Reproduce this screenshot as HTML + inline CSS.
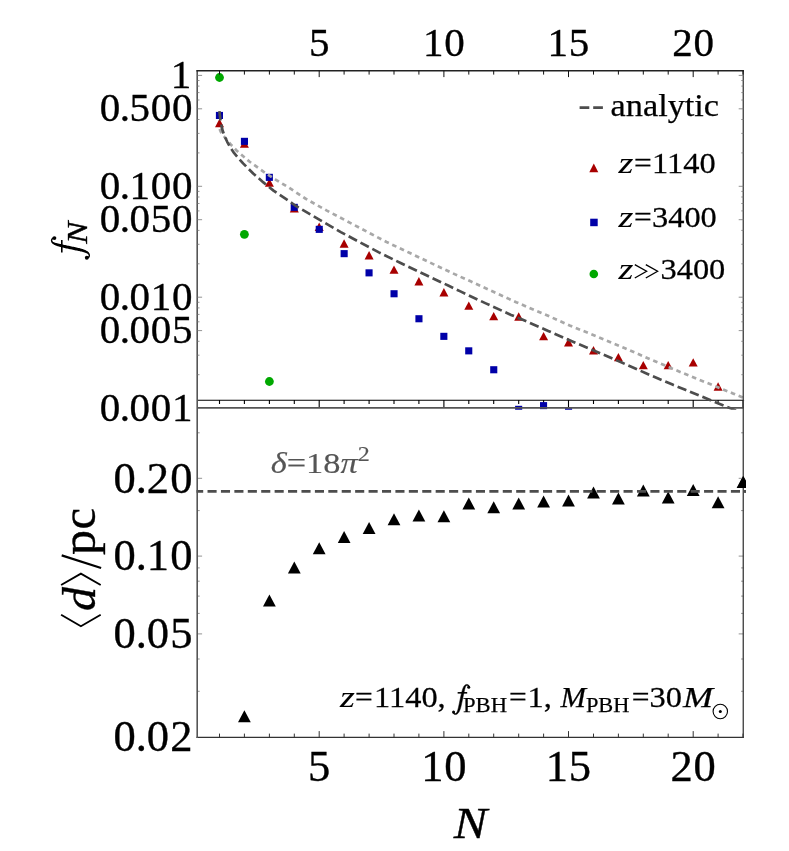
<!DOCTYPE html>
<html><head><meta charset="utf-8"><title>plot</title>
<style>
html,body{margin:0;padding:0;background:#fff;}
body{width:789px;height:851px;overflow:hidden;}
svg{display:block;will-change:transform;}
text{font-family:"Liberation Serif",serif;fill:#000;stroke:#000;stroke-width:0.36px;}
.it{font-style:italic;}
.sm{stroke-width:0.25px;}
.z{font-style:italic;stroke-width:0.05px;}
</style></head><body>
<svg width="789" height="851" viewBox="0 0 789 851">
<rect width="789" height="851" fill="#fff"/>
<defs>
<clipPath id="cu"><rect x="197.3" y="70.8" width="547.7" height="338.9"/></clipPath>
<clipPath id="cl"><rect x="196.5" y="400.3" width="549.5" height="337.09999999999997"/></clipPath>
</defs>

<g id="lower">
<g clip-path="url(#cl)" fill="#000">
<path d="M244.4 710.2L250.8 722.2L238.0 722.2Z"/>
<path d="M269.4 594.5L275.8 606.5L263.0 606.5Z"/>
<path d="M294.3 561.5L300.7 573.5L287.9 573.5Z"/>
<path d="M319.2 542.3L325.6 554.3L312.8 554.3Z"/>
<path d="M344.1 531.0L350.5 543.0L337.8 543.0Z"/>
<path d="M369.1 522.0L375.5 534.0L362.7 534.0Z"/>
<path d="M394.0 513.2L400.4 525.2L387.6 525.2Z"/>
<path d="M418.9 509.4L425.3 521.4L412.5 521.4Z"/>
<path d="M443.9 510.2L450.3 522.2L437.5 522.2Z"/>
<path d="M468.8 497.5L475.2 509.5L462.4 509.5Z"/>
<path d="M493.7 501.3L500.1 513.3L487.3 513.3Z"/>
<path d="M518.7 497.5L525.1 509.5L512.3 509.5Z"/>
<path d="M543.6 495.5L550.0 507.5L537.2 507.5Z"/>
<path d="M568.5 494.5L574.9 506.5L562.1 506.5Z"/>
<path d="M593.5 486.4L599.9 498.4L587.1 498.4Z"/>
<path d="M618.4 492.5L624.8 504.5L612.0 504.5Z"/>
<path d="M643.3 484.4L649.7 496.4L636.9 496.4Z"/>
<path d="M668.2 491.5L674.6 503.5L661.8 503.5Z"/>
<path d="M693.2 483.9L699.6 495.9L686.8 495.9Z"/>
<path d="M718.1 496.3L724.5 508.3L711.7 508.3Z"/>
<path d="M743.0 475.9L749.4 487.9L736.6 487.9Z"/>
</g>
<g clip-path="url(#cl)"><path d="M194.1 491.4H748" stroke="#4d4d4d" stroke-width="2.7" stroke-dasharray="9.1 4.32" fill="none"/></g>
<path d="M196.5 737.4H743.9" fill="none" stroke="#333" stroke-width="1.35"/>
<path d="M219.5 737.4v-3.8M244.4 737.4v-3.8M269.4 737.4v-3.8M294.3 737.4v-3.8M319.2 737.4v-6.3M344.1 737.4v-3.8M369.1 737.4v-3.8M394.0 737.4v-3.8M418.9 737.4v-3.8M443.9 737.4v-6.3M468.8 737.4v-3.8M493.7 737.4v-3.8M518.7 737.4v-3.8M543.6 737.4v-3.8M568.5 737.4v-6.3M593.5 737.4v-3.8M618.4 737.4v-3.8M643.3 737.4v-3.8M668.2 737.4v-3.8M693.2 737.4v-6.3M718.1 737.4v-3.8M743.0 737.4v-3.8" stroke="#333" stroke-width="1" fill="none"/>
<path d="M197.3 691.3h2.4M743.5 691.3h-2.4M197.3 659.0h2.4M743.5 659.0h-2.4M197.3 633.9h4.8M743.5 633.9h-4.8M197.3 613.4h2.4M743.5 613.4h-2.4M197.3 596.1h2.4M743.5 596.1h-2.4M197.3 581.2h2.4M743.5 581.2h-2.4M197.3 567.9h2.4M743.5 567.9h-2.4M197.3 556.1h4.8M743.5 556.1h-4.8M197.3 510.6h2.4M743.5 510.6h-2.4M197.3 478.3h4.8M743.5 478.3h-4.8M197.3 432.8h2.4M743.5 432.8h-2.4" stroke="#777" stroke-width="0.8" fill="none"/>
</g>
<g id="upper">
<path d="M197.3 400.3H744.1M219.5 400.3v3.8M244.4 400.3v3.8M269.4 400.3v3.8M294.3 400.3v3.8M319.2 400.3v7.6M344.1 400.3v3.8M369.1 400.3v3.8M394.0 400.3v3.8M418.9 400.3v3.8M443.9 400.3v7.6M468.8 400.3v3.8M493.7 400.3v3.8M518.7 400.3v3.8M543.6 400.3v3.8M568.5 400.3v7.6M593.5 400.3v3.8M618.4 400.3v3.8M643.3 400.3v3.8M668.2 400.3v3.8M693.2 400.3v7.6M718.1 400.3v3.8M743.0 400.3v7.6" stroke="#000" stroke-width="1.1" fill="none"/>
<g clip-path="url(#cu)">
<circle cx="219.5" cy="77.5" r="4.4" fill="#00a800"/>
<circle cx="244.4" cy="234.3" r="4.4" fill="#00a800"/>
<circle cx="269.4" cy="381.5" r="4.4" fill="#00a800"/>
<path d="M219.5 118.8L224.0 127.2L215.0 127.2Z" fill="#a80000"/>
<path d="M244.4 139.4L248.9 147.8L239.9 147.8Z" fill="#a80000"/>
<path d="M269.4 178.4L273.9 186.8L264.9 186.8Z" fill="#a80000"/>
<path d="M294.3 204.1L298.8 212.5L289.8 212.5Z" fill="#a80000"/>
<path d="M319.2 222.5L323.7 230.9L314.7 230.9Z" fill="#a80000"/>
<path d="M344.1 239.3L348.6 247.7L339.6 247.7Z" fill="#a80000"/>
<path d="M369.1 251.0L373.6 259.4L364.6 259.4Z" fill="#a80000"/>
<path d="M394.0 265.4L398.5 273.8L389.5 273.8Z" fill="#a80000"/>
<path d="M418.9 277.0L423.4 285.4L414.4 285.4Z" fill="#a80000"/>
<path d="M443.9 288.1L448.4 296.5L439.4 296.5Z" fill="#a80000"/>
<path d="M468.8 301.4L473.3 309.8L464.3 309.8Z" fill="#a80000"/>
<path d="M493.7 311.9L498.2 320.3L489.2 320.3Z" fill="#a80000"/>
<path d="M518.7 312.3L523.2 320.7L514.2 320.7Z" fill="#a80000"/>
<path d="M543.6 331.9L548.1 340.3L539.1 340.3Z" fill="#a80000"/>
<path d="M568.5 338.0L573.0 346.4L564.0 346.4Z" fill="#a80000"/>
<path d="M593.5 346.0L598.0 354.4L589.0 354.4Z" fill="#a80000"/>
<path d="M618.4 352.9L622.9 361.3L613.9 361.3Z" fill="#a80000"/>
<path d="M643.3 360.9L647.8 369.3L638.8 369.3Z" fill="#a80000"/>
<path d="M668.2 360.9L672.7 369.3L663.7 369.3Z" fill="#a80000"/>
<path d="M693.2 358.2L697.7 366.6L688.7 366.6Z" fill="#a80000"/>
<path d="M718.1 382.3L722.6 390.7L713.6 390.7Z" fill="#a80000"/>
<rect x="215.9" y="111.9" width="7.1" height="7.1" fill="#0000a8"/>
<rect x="240.9" y="137.8" width="7.1" height="7.1" fill="#0000a8"/>
<rect x="265.8" y="173.8" width="7.1" height="7.1" fill="#0000a8"/>
<rect x="290.7" y="203.8" width="7.1" height="7.1" fill="#0000a8"/>
<rect x="315.7" y="225.8" width="7.1" height="7.1" fill="#0000a8"/>
<rect x="340.6" y="250.1" width="7.1" height="7.1" fill="#0000a8"/>
<rect x="365.5" y="269.3" width="7.1" height="7.1" fill="#0000a8"/>
<rect x="390.5" y="290.2" width="7.1" height="7.1" fill="#0000a8"/>
<rect x="415.4" y="315.2" width="7.1" height="7.1" fill="#0000a8"/>
<rect x="440.3" y="332.8" width="7.1" height="7.1" fill="#0000a8"/>
<rect x="465.2" y="347.3" width="7.1" height="7.1" fill="#0000a8"/>
<rect x="490.2" y="366.2" width="7.1" height="7.1" fill="#0000a8"/>
<rect x="515.1" y="405.8" width="7.1" height="7.1" fill="#0000a8"/>
<rect x="540.0" y="402.1" width="7.1" height="7.1" fill="#0000a8"/>
<rect x="565.0" y="408.2" width="7.1" height="7.1" fill="#0000a8"/>
<path d="M219.6 129.0L221.5 133.4L225.3 138.0L230.5 144.2L236.8 150.7L249.4 161.5L263.4 171.6L276.0 179.8L288.7 187.5L305.3 198.5L326.9 210.6L349.7 222.6L371.3 234.0L386.6 242.0L409.4 252.8L432.2 263.6L455.1 274.4L470.6 281.3L493.4 291.8L516.2 302.2L546.9 315.3L569.7 325.5L593.8 335.2L624.4 348.0L648.4 358.5L671.3 368.2L685.3 374.1L709.4 383.8L733.5 393.7L745.0 398.4" stroke="#a8a8a8" stroke-width="2.7" stroke-dasharray="4.6 3.8" fill="none" stroke-linejoin="round"/>
<path d="M219.4 111.2L220.3 119.0L222.2 129.2L224.4 135.8L227.2 141.8L230.5 147.8L234.2 153.2L243.1 163.4L253.2 173.5L263.4 182.4L273.5 190.6L286.2 199.2L295.2 205.5L318.0 218.8L340.8 232.1L358.6 241.6L378.9 252.4L400.6 263.0L425.9 275.0L448.7 285.8L460.4 291.4L485.8 303.4L511.1 314.9L522.8 319.8L548.2 330.9L573.5 342.0L598.9 352.7L621.8 362.6L645.9 373.2L672.5 384.6L685.3 389.8L710.7 400.3L736.0 410.4L745.0 414.0" stroke="#4d4d4d" stroke-width="2.7" stroke-dasharray="9.4 4" fill="none" stroke-linejoin="round"/>
</g>
<path d="M197 407.9H743.5" stroke="#555" stroke-width="1.9" fill="none"/>
<path d="M197.2 70.2V738" stroke="#555" stroke-width="1.6" fill="none"/>
<path d="M743.25 70.2V738" stroke="#3a3a3a" stroke-width="1.3" fill="none"/>
<path d="M196.4 70.8H743.9" stroke="#222" stroke-width="1.4" fill="none"/>
<path d="M219.5 70.8v3.8M244.4 70.8v3.8M269.4 70.8v3.8M294.3 70.8v3.8M319.2 70.8v6.3M344.1 70.8v3.8M369.1 70.8v3.8M394.0 70.8v3.8M418.9 70.8v3.8M443.9 70.8v6.3M468.8 70.8v3.8M493.7 70.8v3.8M518.7 70.8v3.8M543.6 70.8v3.8M568.5 70.8v6.3M593.5 70.8v3.8M618.4 70.8v3.8M643.3 70.8v3.8M668.2 70.8v3.8M693.2 70.8v6.3M718.1 70.8v3.8M743.0 70.8v3.8" stroke="#111" stroke-width="1" fill="none"/>
<path d="M197.3 75.4h4.8M743.5 75.4h-4.8M197.3 80.5h2.2M743.5 80.5h-2.2M197.3 86.1h2.2M743.5 86.1h-2.2M197.3 92.6h2.2M743.5 92.6h-2.2M197.3 100.0h2.2M743.5 100.0h-2.2M197.3 108.8h4.8M743.5 108.8h-4.8M197.3 119.5h2.2M743.5 119.5h-2.2M197.3 133.4h2.2M743.5 133.4h-2.2M197.3 152.9h2.2M743.5 152.9h-2.2M197.3 186.3h4.8M743.5 186.3h-4.8M197.3 191.4h2.2M743.5 191.4h-2.2M197.3 197.0h2.2M743.5 197.0h-2.2M197.3 203.5h2.2M743.5 203.5h-2.2M197.3 210.9h2.2M743.5 210.9h-2.2M197.3 219.7h4.8M743.5 219.7h-4.8M197.3 230.4h2.2M743.5 230.4h-2.2M197.3 244.3h2.2M743.5 244.3h-2.2M197.3 263.8h2.2M743.5 263.8h-2.2M197.3 297.2h4.8M743.5 297.2h-4.8M197.3 302.3h2.2M743.5 302.3h-2.2M197.3 307.9h2.2M743.5 307.9h-2.2M197.3 314.4h2.2M743.5 314.4h-2.2M197.3 321.8h2.2M743.5 321.8h-2.2M197.3 330.6h4.8M743.5 330.6h-4.8M197.3 341.3h2.2M743.5 341.3h-2.2M197.3 355.2h2.2M743.5 355.2h-2.2M197.3 374.7h2.2M743.5 374.7h-2.2" stroke="#777" stroke-width="0.8" fill="none"/>
</g>
<g clip-path="url(#cl)"><path d="M743.4 475.9L749.8 487.9L737.0 487.9Z" fill="#000"/><path d="M743.9 491.4H748" stroke="#4d4d4d" stroke-width="2.7" fill="none"/></g>
<g id="labels">
<text transform="translate(191.89999999999998,87.8) scale(1.0,1)" font-size="41" text-anchor="end" letter-spacing="0.7">1</text>
<text transform="translate(193.2,121.2) scale(1.0,1)" font-size="41" text-anchor="end" letter-spacing="0.7">0<tspan dx="-1.2">.</tspan><tspan dx="-1.2">500</tspan></text>
<text transform="translate(193.2,198.7) scale(1.0,1)" font-size="41" text-anchor="end" letter-spacing="0.7">0<tspan dx="-1.2">.</tspan><tspan dx="-1.2">100</tspan></text>
<text transform="translate(193.2,232.1) scale(1.0,1)" font-size="41" text-anchor="end" letter-spacing="0.7">0<tspan dx="-1.2">.</tspan><tspan dx="-1.2">050</tspan></text>
<text transform="translate(193.2,309.6) scale(1.0,1)" font-size="41" text-anchor="end" letter-spacing="0.7">0<tspan dx="-1.2">.</tspan><tspan dx="-1.2">010</tspan></text>
<text transform="translate(193.2,343.0) scale(1.0,1)" font-size="41" text-anchor="end" letter-spacing="0.7">0<tspan dx="-1.2">.</tspan><tspan dx="-1.2">005</tspan></text>
<text transform="translate(193.2,420.5) scale(1.0,1)" font-size="41" text-anchor="end" letter-spacing="0.7">0<tspan dx="-1.2">.</tspan><tspan dx="-1.2">001</tspan></text>
<text transform="translate(193.6,492.6) scale(1.0,1)" font-size="44.5" text-anchor="end" letter-spacing="1.2">0<tspan dx="-1.3">.</tspan><tspan dx="-1.3">20</tspan></text>
<text transform="translate(193.6,570.4) scale(1.0,1)" font-size="44.5" text-anchor="end" letter-spacing="1.2">0<tspan dx="-1.3">.</tspan><tspan dx="-1.3">10</tspan></text>
<text transform="translate(193.6,648.2) scale(1.0,1)" font-size="44.5" text-anchor="end" letter-spacing="1.2">0<tspan dx="-1.3">.</tspan><tspan dx="-1.3">05</tspan></text>
<text transform="translate(193.6,751.1) scale(1.0,1)" font-size="44.5" text-anchor="end" letter-spacing="1.2">0<tspan dx="-1.3">.</tspan><tspan dx="-1.3">02</tspan></text>
<text transform="translate(319.5,55.6) scale(1.0,1)" font-size="41" text-anchor="middle" letter-spacing="0.7">5</text>
<text transform="translate(319.5,780.6) scale(1.0,1)" font-size="44.5" text-anchor="middle" letter-spacing="0.7">5</text>
<text transform="translate(444.2,55.6) scale(1.0,1)" font-size="41" text-anchor="middle" letter-spacing="0.7">10</text>
<text transform="translate(444.2,780.6) scale(1.0,1)" font-size="44.5" text-anchor="middle" letter-spacing="0.7">10</text>
<text transform="translate(568.8,55.6) scale(1.0,1)" font-size="41" text-anchor="middle" letter-spacing="0.7">15</text>
<text transform="translate(568.8,780.6) scale(1.0,1)" font-size="44.5" text-anchor="middle" letter-spacing="0.7">15</text>
<text transform="translate(693.5,55.6) scale(1.0,1)" font-size="41" text-anchor="middle" letter-spacing="0.7">20</text>
<text transform="translate(693.5,780.6) scale(1.0,1)" font-size="44.5" text-anchor="middle" letter-spacing="0.7">20</text>
<text transform="translate(470.4,837.9) scale(1.13,1)" font-size="44.3" text-anchor="middle" class="it">N</text>
<g transform="translate(80.6,259.7) rotate(-90)"><path d="M22.83 -26.37L22.71 -26.58L22.61 -26.80L22.50 -27.03L22.39 -27.28L22.27 -27.54L22.14 -27.80L22.00 -28.07L21.84 -28.33L21.66 -28.58L21.45 -28.81L21.22 -29.00L20.99 -29.16L20.76 -29.30L20.51 -29.42L20.25 -29.52L19.99 -29.60L19.73 -29.66L19.46 -29.70L19.19 -29.71L18.92 -29.69L18.66 -29.66L18.40 -29.61L18.13 -29.53L17.86 -29.44L17.60 -29.32L17.33 -29.18L17.06 -29.02L16.80 -28.83L16.54 -28.61L16.30 -28.36L16.06 -28.10L15.84 -27.82L15.62 -27.53L15.41 -27.21L15.20 -26.88L14.99 -26.53L14.80 -26.16L14.60 -25.76L14.41 -25.35L14.22 -24.91L14.04 -24.45L13.86 -23.98L13.68 -23.49L13.51 -22.97L13.35 -22.44L13.18 -21.88L13.01 -21.30L12.84 -20.68L12.67 -20.03L12.49 -19.34L12.30 -18.59L12.11 -17.80L11.92 -16.96L11.72 -16.09L11.52 -15.20L11.32 -14.29L11.13 -13.37L10.93 -12.44L10.73 -11.52L10.53 -10.62L10.33 -9.69L10.13 -8.72L9.92 -7.72L9.72 -6.71L9.51 -5.71L9.31 -4.73L9.11 -3.79L8.93 -2.90L8.75 -2.08L8.59 -1.34L8.44 -0.68L8.31 -0.08L8.19 0.46L8.08 0.94L7.97 1.39L7.87 1.80L7.77 2.19L7.66 2.58L7.55 2.96L7.43 3.36L7.30 3.76L7.18 4.15L7.06 4.53L6.94 4.89L6.81 5.23L6.69 5.55L6.56 5.85L6.43 6.12L6.30 6.37L6.16 6.60L6.02 6.80L5.87 7.00L5.70 7.18L5.52 7.36L5.34 7.51L5.15 7.65L4.96 7.78L4.78 7.88L4.60 7.96L4.44 8.02L4.31 8.05L4.18 8.06L4.04 8.05L3.90 8.03L3.77 7.99L3.63 7.94L3.50 7.87L3.38 7.79L3.27 7.70L3.18 7.62L3.12 7.55L3.08 7.46L3.03 7.34L2.98 7.20L2.93 7.02L2.87 6.83L2.82 6.62L2.75 6.40L2.67 6.16L2.59 5.94L0.81 6.86L0.92 7.01L1.02 7.17L1.13 7.34L1.24 7.53L1.36 7.74L1.49 7.95L1.64 8.17L1.80 8.39L2.00 8.60L2.22 8.78L2.44 8.92L2.65 9.04L2.88 9.15L3.12 9.24L3.37 9.32L3.63 9.38L3.90 9.42L4.18 9.44L4.47 9.42L4.76 9.38L5.03 9.32L5.31 9.24L5.60 9.14L5.89 9.02L6.19 8.87L6.49 8.71L6.78 8.52L7.08 8.31L7.36 8.07L7.64 7.80L7.89 7.51L8.13 7.20L8.37 6.88L8.59 6.54L8.80 6.18L9.01 5.82L9.20 5.44L9.40 5.05L9.59 4.65L9.77 4.24L9.95 3.83L10.12 3.43L10.28 3.02L10.44 2.59L10.59 2.15L10.75 1.68L10.90 1.17L11.06 0.62L11.23 0.01L11.41 -0.66L11.60 -1.42L11.80 -2.26L12.00 -3.17L12.21 -4.12L12.43 -5.10L12.64 -6.10L12.85 -7.11L13.06 -8.10L13.27 -9.06L13.47 -9.98L13.66 -10.89L13.86 -11.82L14.05 -12.74L14.25 -13.66L14.44 -14.57L14.63 -15.46L14.81 -16.33L14.98 -17.15L15.15 -17.93L15.31 -18.66L15.46 -19.35L15.61 -20.00L15.74 -20.61L15.87 -21.19L15.99 -21.73L16.11 -22.25L16.23 -22.74L16.34 -23.21L16.46 -23.65L16.58 -24.09L16.70 -24.51L16.81 -24.91L16.92 -25.28L17.03 -25.63L17.14 -25.96L17.25 -26.26L17.36 -26.54L17.47 -26.80L17.58 -27.03L17.70 -27.24L17.82 -27.42L17.95 -27.58L18.08 -27.73L18.22 -27.86L18.37 -27.98L18.51 -28.08L18.66 -28.16L18.80 -28.22L18.95 -28.27L19.08 -28.31L19.21 -28.32L19.34 -28.32L19.48 -28.30L19.63 -28.27L19.77 -28.21L19.91 -28.15L20.04 -28.07L20.16 -27.98L20.27 -27.88L20.35 -27.79L20.41 -27.69L20.47 -27.56L20.53 -27.39L20.59 -27.19L20.64 -26.96L20.70 -26.71L20.76 -26.45L20.82 -26.17L20.89 -25.89L20.97 -25.63Z" fill="#000" stroke="#000" stroke-width="0.0" stroke-linejoin="round"/><circle cx="21.60" cy="-26.20" r="1.95" fill="#000"/><circle cx="1.90" cy="6.20" r="1.95" fill="#000"/><path d="M7.20 -18.80H19.60" stroke="#000" stroke-width="1.60" fill="none"/><text x="16.0" y="6.5" font-size="28.8" class="it" textLength="22.2" lengthAdjust="spacingAndGlyphs">N</text></g>
<g transform="translate(95.1,627.6) rotate(-90)"><path d="M12.8 -34L1.4 -14.2L12.8 5.6" fill="none" stroke="#000" stroke-width="1.9"/><path d="M42.6 -34L54.0 -14.2L42.6 5.6" fill="none" stroke="#000" stroke-width="1.9"/><path d="M59.6 6.0L72.2 -33.4" fill="none" stroke="#000" stroke-width="2.2"/><text x="16.6" y="0" font-size="46.5" class="it" textLength="24" lengthAdjust="spacingAndGlyphs">d</text><text x="72.6" y="0" font-size="48.5" textLength="25" lengthAdjust="spacingAndGlyphs">p</text><text x="98.2" y="0" font-size="48.5" textLength="21.5" lengthAdjust="spacingAndGlyphs">c</text></g>
<path d="M579.6 107.6H603" stroke="#4d4d4d" stroke-width="2.6" stroke-dasharray="9.7 3.9" fill="none"/>
<text x="610.6" y="115.8" font-size="32.5" text-anchor="start" textLength="108.5" lengthAdjust="spacingAndGlyphs" class="sm">analytic</text>
<path d="M593.8 163.5L598.3 172.2L589.3 172.2Z" fill="#a80000"/>
<rect x="590.2" y="218.7" width="7.5" height="7.5" fill="#0000a8"/>
<circle cx="593.8" cy="274" r="4.3" fill="#00a800"/>
<text transform="translate(618.6,173.2) scale(1.28,1)" font-size="30" text-anchor="start" class="z">z</text>
<text transform="translate(634.0,173.2) scale(1.05,1)" font-size="30" text-anchor="start" class="sm">=</text>
<text transform="translate(652.0,173.2) scale(1.08,1)" font-size="30" text-anchor="start" class="sm">1140</text>
<text transform="translate(618.6,226.6) scale(1.28,1)" font-size="30" text-anchor="start" class="z">z</text>
<text transform="translate(634.0,226.6) scale(1.05,1)" font-size="30" text-anchor="start" class="sm">=</text>
<text transform="translate(652.0,226.6) scale(1.08,1)" font-size="30" text-anchor="start" class="sm">3400</text>
<text transform="translate(618.6,279.2) scale(1.28,1)" font-size="30" text-anchor="start" class="z">z</text>
<path d="M634.8 264.6L646.6 271.3L634.8 278M645.8 264.6L657.6 271.3L645.8 278" fill="none" stroke="#000" stroke-width="1.3"/>
<text transform="translate(660.5,279.2) scale(1.08,1)" font-size="30" text-anchor="start" class="sm">3400</text>
<text x="270.7" y="473.2" font-size="30" style="fill:#555;stroke:#555;stroke-width:0.15px" textLength="99" lengthAdjust="spacingAndGlyphs"><tspan class="it" fill="#555">δ</tspan>=18<tspan class="it" fill="#555">π</tspan><tspan font-size="21" dy="-11.8" fill="#555">2</tspan></text>
<text transform="translate(340.0,706.5) scale(1.28,1)" font-size="30" text-anchor="start" class="z">z</text>
<text transform="translate(355.0,706.5) scale(1.05,1)" font-size="30" text-anchor="start" class="sm">=</text>
<text transform="translate(374.0,706.5) scale(1.08,1)" font-size="30" text-anchor="start" class="sm">1140,</text>
<g transform="translate(452.1,707.3)"><path d="M17.58 -20.31L17.49 -20.47L17.41 -20.63L17.32 -20.81L17.24 -21.01L17.15 -21.21L17.05 -21.41L16.94 -21.61L16.82 -21.81L16.68 -22.01L16.51 -22.19L16.34 -22.33L16.17 -22.46L15.98 -22.56L15.79 -22.66L15.60 -22.73L15.39 -22.79L15.19 -22.84L14.98 -22.87L14.77 -22.88L14.57 -22.87L14.36 -22.84L14.16 -22.80L13.96 -22.74L13.76 -22.67L13.55 -22.58L13.34 -22.47L13.14 -22.34L12.94 -22.20L12.74 -22.03L12.55 -21.84L12.37 -21.64L12.20 -21.42L12.03 -21.20L11.86 -20.95L11.70 -20.70L11.55 -20.43L11.39 -20.14L11.24 -19.84L11.09 -19.52L10.95 -19.18L10.81 -18.83L10.67 -18.46L10.54 -18.08L10.41 -17.69L10.28 -17.28L10.15 -16.85L10.02 -16.40L9.89 -15.92L9.76 -15.42L9.62 -14.89L9.47 -14.32L9.33 -13.70L9.18 -13.06L9.03 -12.39L8.87 -11.70L8.72 -11.00L8.57 -10.29L8.41 -9.58L8.26 -8.87L8.11 -8.17L7.96 -7.46L7.80 -6.71L7.64 -5.94L7.48 -5.17L7.32 -4.40L7.17 -3.64L7.02 -2.92L6.87 -2.23L6.74 -1.60L6.61 -1.03L6.50 -0.52L6.40 -0.06L6.30 0.35L6.22 0.72L6.14 1.07L6.06 1.39L5.98 1.69L5.90 1.98L5.81 2.28L5.72 2.59L5.62 2.90L5.53 3.20L5.43 3.49L5.34 3.76L5.25 4.03L5.15 4.27L5.05 4.50L4.95 4.72L4.85 4.91L4.75 5.08L4.64 5.24L4.52 5.39L4.39 5.53L4.25 5.66L4.11 5.78L3.96 5.89L3.82 5.99L3.68 6.07L3.54 6.13L3.42 6.17L3.32 6.20L3.22 6.21L3.11 6.20L3.01 6.18L2.90 6.15L2.80 6.11L2.70 6.06L2.60 6.00L2.51 5.93L2.45 5.87L2.41 5.81L2.37 5.75L2.33 5.65L2.29 5.54L2.25 5.41L2.21 5.26L2.17 5.10L2.12 4.92L2.06 4.74L1.99 4.57L0.62 5.28L0.71 5.40L0.79 5.52L0.87 5.65L0.95 5.80L1.05 5.96L1.15 6.12L1.26 6.29L1.39 6.46L1.54 6.62L1.71 6.76L1.88 6.87L2.04 6.96L2.22 7.04L2.40 7.12L2.60 7.18L2.80 7.22L3.00 7.25L3.22 7.27L3.44 7.26L3.66 7.22L3.88 7.18L4.09 7.11L4.31 7.04L4.54 6.94L4.76 6.83L4.99 6.71L5.22 6.56L5.45 6.40L5.67 6.21L5.88 6.01L6.08 5.78L6.26 5.55L6.44 5.30L6.61 5.04L6.78 4.76L6.93 4.48L7.09 4.19L7.24 3.89L7.38 3.58L7.52 3.27L7.66 2.95L7.79 2.64L7.92 2.32L8.04 2.00L8.16 1.66L8.27 1.29L8.40 0.90L8.52 0.48L8.65 0.01L8.79 -0.51L8.93 -1.10L9.09 -1.74L9.24 -2.44L9.41 -3.17L9.57 -3.93L9.73 -4.70L9.90 -5.47L10.06 -6.24L10.22 -6.98L10.37 -7.69L10.52 -8.39L10.67 -9.10L10.82 -9.81L10.97 -10.52L11.12 -11.22L11.26 -11.91L11.40 -12.57L11.54 -13.21L11.67 -13.81L11.79 -14.37L11.91 -14.90L12.02 -15.40L12.12 -15.87L12.22 -16.32L12.31 -16.73L12.40 -17.13L12.49 -17.51L12.58 -17.87L12.67 -18.21L12.77 -18.55L12.86 -18.87L12.95 -19.18L13.03 -19.47L13.12 -19.74L13.20 -19.99L13.28 -20.22L13.36 -20.44L13.45 -20.63L13.54 -20.81L13.63 -20.97L13.72 -21.11L13.82 -21.24L13.92 -21.35L14.03 -21.45L14.14 -21.54L14.25 -21.62L14.37 -21.68L14.48 -21.73L14.59 -21.77L14.69 -21.79L14.79 -21.81L14.89 -21.81L15.00 -21.79L15.11 -21.76L15.22 -21.73L15.33 -21.67L15.43 -21.61L15.53 -21.55L15.61 -21.47L15.67 -21.40L15.72 -21.32L15.76 -21.22L15.81 -21.09L15.85 -20.93L15.90 -20.76L15.94 -20.57L15.98 -20.37L16.03 -20.15L16.09 -19.93L16.15 -19.73Z" fill="#000" stroke="#000" stroke-width="0.55" stroke-linejoin="round"/><circle cx="16.63" cy="-20.17" r="1.50" fill="#000"/><circle cx="1.46" cy="4.77" r="1.50" fill="#000"/><path d="M5.54 -14.48H15.09" stroke="#000" stroke-width="1.56" fill="none"/></g>
<text x="463" y="711.7" font-size="22" text-anchor="start" textLength="44" lengthAdjust="spacingAndGlyphs" class="sm">PBH</text>
<text transform="translate(509.0,706.5) scale(1.05,1)" font-size="30" text-anchor="start" class="sm">=</text>
<text transform="translate(527.5,706.5) scale(1.08,1)" font-size="30" text-anchor="start" class="sm">1,</text>
<text x="560.6" y="706.5" font-size="30" text-anchor="start" textLength="25.5" lengthAdjust="spacingAndGlyphs" class="it sm">M</text>
<text x="585.9" y="711.7" font-size="22" text-anchor="start" textLength="43.5" lengthAdjust="spacingAndGlyphs" class="sm">PBH</text>
<text transform="translate(631.8,706.5) scale(1.05,1)" font-size="30" text-anchor="start" class="sm">=</text>
<text transform="translate(649.5,706.5) scale(1.08,1)" font-size="30" text-anchor="start" class="sm">30</text>
<text x="683" y="706.5" font-size="30" text-anchor="start" textLength="30" lengthAdjust="spacingAndGlyphs" class="it sm">M</text>
<circle cx="720.3" cy="711.5" r="7.2" fill="none" stroke="#000" stroke-width="1.1"/><circle cx="720.3" cy="711.5" r="1.5" fill="#000"/>
</g>
</svg></body></html>
